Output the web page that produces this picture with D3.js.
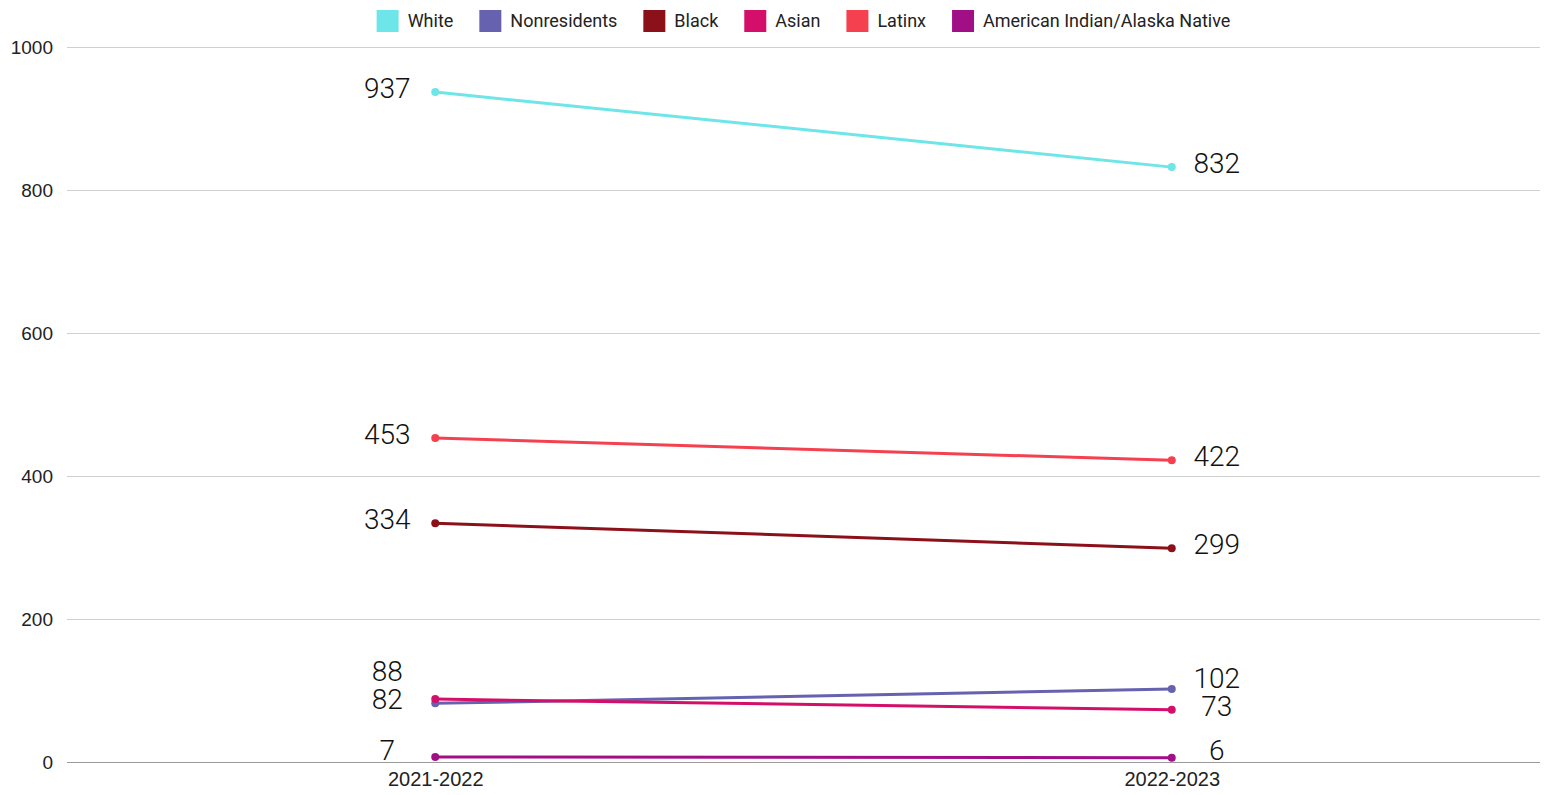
<!DOCTYPE html>
<html>
<head>
<meta charset="utf-8">
<script src="https://cdn.jsdelivr.net/npm/d3@7"></script>
<style>
	body { margin: 0; background: #fff; font-family: Roboto, "Noto Sans", sans-serif; }
	.axis text { fill: #222; }
</style>
</head>
<body>
<div id="chart"></div>
<script>
// slope chart, enrolment by group

const years = ['2021-2022', '2022-2023'];
const groups = ['White', 'Nonresidents', 'Black', 'Asian', 'Latinx', 'American Indian/Alaska Native'];
const colours = ['#6ee5e8', '#6662b0', '#8c1019', '#d30f6a', '#f5404f', '#a10f87'];
const white = [937, 832];
const nonresidents = [82, 102];
const black = [334, 299];
const asian = [88, 73];
const latinx = [453, 422];
const aian = [7, 6];
const yTicks = [0, 200, 400, 600, 800, 1000];

const seriesValues = [white, nonresidents, black, asian, latinx, aian];
const series = groups.map((g, i) => ({ name: g, colour: colours[i], values: seriesValues[i] }));

const width = 1548, height = 795;
const m = { top: 47, right: 8, bottom: 33, left: 67 };

const svg = d3.select('#chart').append('svg')
	.attr('width', width)
	.attr('height', height);

const xScale = d3.scalePoint()
	.domain(years)
	.range([m.left, width - m.right])
	.padding(0.5);

const yScale = d3.scaleLinear()
	.domain([0, 1000])
	.range([height - m.bottom, m.top]);

// gridlines + y labels
const yAxis = svg.append('g')
	.attr('class', 'y axis')
	.attr('transform', 'translate(' + m.left + ',0)')
	.call(d3.axisLeft(yScale)
		.tickValues(yTicks)
		.tickFormat(d3.format('d'))
		.tickSize(-(width - m.left - m.right))
		.tickPadding(14));
yAxis.select('.domain').remove();
yAxis.selectAll('line').attr('stroke', '#d0d0d0');
yAxis.selectAll('.tick').filter(d => d === 0).select('line').attr('stroke', '#9a9a9a');
yAxis.selectAll('text').style('font-size', '19px').attr('dy', '0.35em');

const xAxis = svg.append('g')
	.attr('class', 'x axis')
	.attr('transform', 'translate(0,' + (height - m.bottom) + ')')
	.call(d3.axisBottom(xScale).tickSize(0).tickPadding(10));
xAxis.select('.domain').remove();
xAxis.selectAll('text').style('font-size', '20px');

// lines and dots
const line = d3.line()
	.x((d, i) => xScale(years[i]))
	.y(d => yScale(d));

const g = svg.append('g');
series.forEach(function(s) {
	g.append('path')
		.attr('d', line(s.values))
		.attr('fill', 'none')
		.attr('stroke', s.colour)
		.attr('stroke-width', 3);
	s.values.forEach(function(v, i) {
		g.append('circle')
			.attr('cx', xScale(years[i]))
			.attr('cy', yScale(v))
			.attr('r', 4)
			.attr('fill', s.colour);
	});
});

// value labels; kept off the baseline, and when two would collide the upper one is pushed up
function placeLabels(col) {
	const gap = 28;
	const maxY = height - m.bottom - 12;
	const items = series.map(s => ({ v: s.values[col], y: Math.min(yScale(s.values[col]) - 4, maxY) }))
		.sort((a, b) => b.y - a.y);
	for (let i = 1; i < items.length; i++) {
		if (items[i - 1].y - items[i].y < gap) items[i].y = items[i - 1].y - gap;
	}
	return items;
}

[0, 1].forEach(function(col) {
	const items = placeLabels(col);
	const left = col === 0;
	svg.append('g').selectAll('text')
		.data(items)
		.join('text')
		.attr('x', xScale(years[col]) + (left ? -48 : 45))
		.attr('y', d => d.y)
		.attr('dy', '0.35em')
		.attr('text-anchor', 'middle')
		.style('font-size', '28px')
		.style('font-weight', 300)
		.style('fill', '#111')
		.text(d => d.v);
});

// legend, centred over the plot
const legend = svg.append('g').attr('class', 'legend');
let lx = 0;
groups.forEach(function(name, i) {
	const item = legend.append('g').attr('transform', 'translate(' + lx + ',0)');
	item.append('rect')
		.attr('x', 0).attr('y', 10)
		.attr('width', 22).attr('height', 22)
		.attr('fill', colours[i]);
	const t = item.append('text')
		.attr('x', 31).attr('y', 21)
		.attr('dy', '0.35em')
		.style('font-size', '18px')
		.style('fill', '#222')
		.text(name);
	lx += 31 + t.node().getComputedTextLength() + 26;
});
const legendWidth = lx - 26;
legend.attr('transform', 'translate(' + ((m.left + width - m.right) / 2 - legendWidth / 2) + ',0)');
</script>
</body>
</html>
